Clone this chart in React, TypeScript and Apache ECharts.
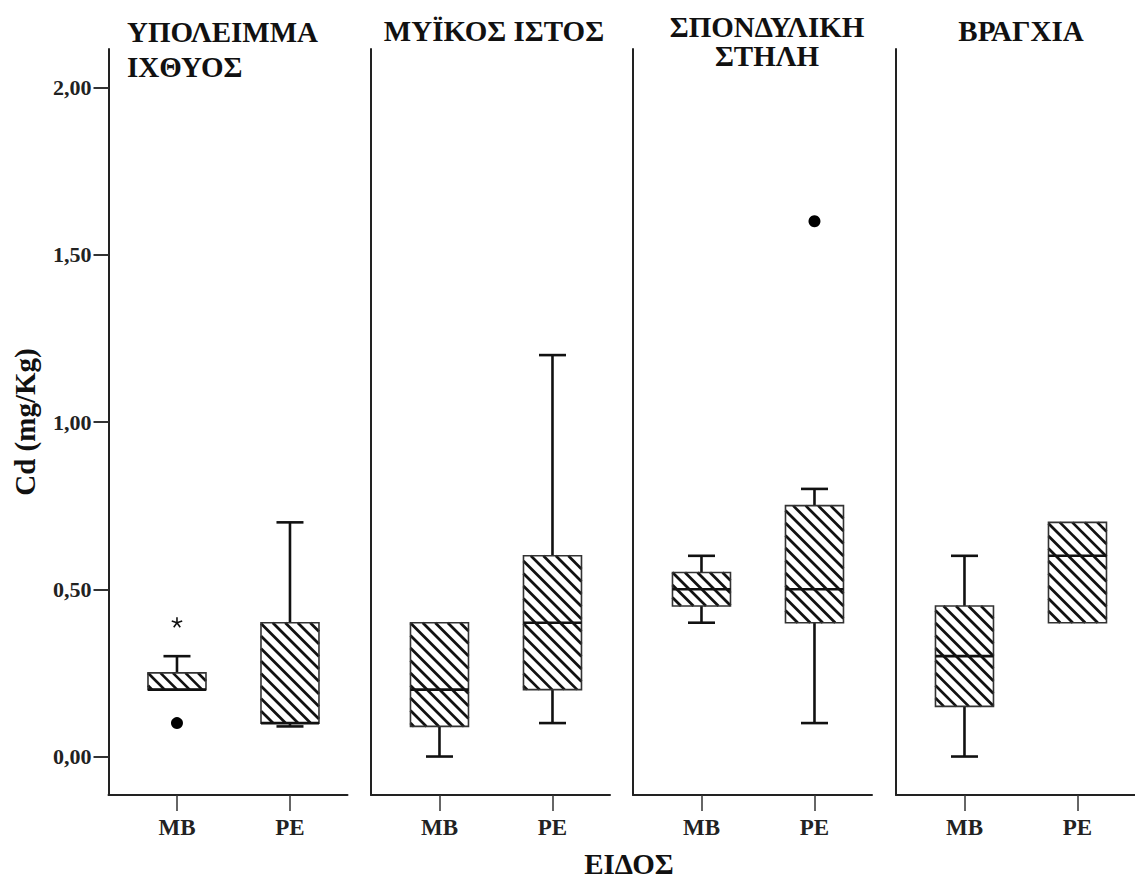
import React, { useEffect, useRef } from 'react';
import * as echarts from 'echarts';

// ---------- data ----------
const panelTitles = ['ΥΠΟΛΕΙΜΜΑ\nΙΧΘΥΟΣ', 'ΜΥΪΚΟΣ ΙΣΤΟΣ', 'ΣΠΟΝΔΥΛΙΚΗ\nΣΤΗΛΗ', 'ΒΡΑΓΧΙΑ'];
const groups = ['MB', 'PE'];
const yTicks = [0, 0.5, 1, 1.5, 2];
// [low whisker, Q1, median, Q3, high whisker] for each panel
const mbStats = [
  [0.2, 0.2, 0.2, 0.25, 0.3],
  [0.0, 0.09, 0.2, 0.4, 0.4],
  [0.4, 0.45, 0.5, 0.55, 0.6],
  [0.0, 0.15, 0.3, 0.45, 0.6],
];
const peStats = [
  [0.09, 0.1, 0.1, 0.4, 0.7],
  [0.1, 0.2, 0.4, 0.6, 1.2],
  [0.1, 0.4, 0.5, 0.75, 0.8],
  [0.4, 0.4, 0.6, 0.7, 0.7],
];
// [panel, group index, value]
const outliers = [
  [0, 0, 0.1],
  [2, 1, 1.6],
];
const extremes = [[0, 0, 0.4]];
const yAxisTitle = 'Cd (mg/Kg)';
const xAxisTitle = 'ΕΙΔΟΣ';

// ---------- layout ----------
const FONT = "'Liberation Serif', 'Times New Roman', serif";
const INK = '#111';
const panelLeft = [108.5, 371, 633, 896];
const PANEL_W = 239;
const GRID_TOP = 49;
const GRID_H = 746;
const X_MIN = -0.606;
const X_MAX = 1.509;
const Y_MIN = -0.115;
const Y_MAX = 2.115;

function fmtY(v: number) {
  return v.toFixed(2).replace('.', ',');
}

function boxRenderer(params: any, api: any) {
  const x = api.value(0);
  const lo = api.value(1);
  const q1 = api.value(2);
  const med = api.value(3);
  const q3 = api.value(4);
  const hi = api.value(5);
  const cx = api.coord([x, med])[0];
  const yLo = api.coord([x, lo])[1];
  const yQ1 = api.coord([x, q1])[1];
  const yMed = api.coord([x, med])[1];
  const yQ3 = api.coord([x, q3])[1];
  const yHi = api.coord([x, hi])[1];
  const hw = 29;
  const cw = 13.5;
  const children: any[] = [];
  const lw = 2.6;
  // whiskers
  if (yHi < yQ3 - 0.5) {
    children.push({ type: 'line', shape: { x1: cx, y1: yQ3, x2: cx, y2: yHi }, style: { stroke: INK, lineWidth: lw } });
    children.push({ type: 'line', shape: { x1: cx - cw, y1: yHi, x2: cx + cw, y2: yHi }, style: { stroke: INK, lineWidth: lw } });
  }
  if (yLo > yQ1 + 0.5) {
    children.push({ type: 'line', shape: { x1: cx, y1: yQ1, x2: cx, y2: yLo }, style: { stroke: INK, lineWidth: lw } });
    children.push({ type: 'line', shape: { x1: cx - cw, y1: yLo, x2: cx + cw, y2: yLo }, style: { stroke: INK, lineWidth: lw } });
  }
  // box background
  const x0 = cx - hw;
  const x1 = cx + hw;
  const yt = yQ3;
  const yb = yQ1;
  children.push({ type: 'rect', shape: { x: x0, y: yt, width: x1 - x0, height: yb - yt }, style: { fill: '#fff', stroke: null } });
  // hatch lines "\" : y = x + c
  const s = 12.5;
  const cStart = Math.ceil((yt - x1) / s) * s;
  for (let c = cStart; c <= yb - x0; c += s) {
    const xa = Math.max(x0, yt - c);
    const xb = Math.min(x1, yb - c);
    if (xb - xa > 0.8) {
      children.push({
        type: 'line',
        shape: { x1: xa, y1: xa + c, x2: xb, y2: xb + c },
        style: { stroke: INK, lineWidth: 2.7 },
      });
    }
  }
  // box outline
  children.push({ type: 'rect', shape: { x: x0, y: yt, width: x1 - x0, height: yb - yt }, style: { fill: null, stroke: '#333', lineWidth: 1.6 } });
  // median
  children.push({ type: 'line', shape: { x1: x0, y1: yMed, x2: x1, y2: yMed }, style: { stroke: INK, lineWidth: 2.6 } });
  return { type: 'group', children };
}

function starRenderer(params: any, api: any) {
  const p = api.coord([api.value(0), api.value(1)]);
  const r = 5.5;
  const children: any[] = [];
  for (let k = 0; k < 5; k++) {
    const a = -Math.PI / 2 + (k * 2 * Math.PI) / 5;
    children.push({
      type: 'line',
      shape: { x1: p[0], y1: p[1], x2: p[0] + r * Math.cos(a), y2: p[1] + r * Math.sin(a) },
      style: { stroke: INK, lineWidth: 1.6 },
    });
  }
  return { type: 'group', children };
}

function buildOption() {
  const grid: any[] = [];
  const xAxis: any[] = [];
  const yAxis: any[] = [];
  const series: any[] = [];
  const axisLineStyle = { color: '#222', width: 2 };
  const labelStyle = { fontFamily: FONT, fontWeight: 'bold', color: '#222' };

  panelTitles.forEach((_, i) => {
    grid.push({
      left: panelLeft[i],
      top: GRID_TOP,
      width: PANEL_W,
      height: GRID_H,
      containLabel: false,
      outerBoundsMode: 'none',
    });
    xAxis.push({
      type: 'value',
      gridIndex: i,
      min: X_MIN,
      max: X_MAX,
      splitLine: { show: false },
      axisLine: { show: true, onZero: false, lineStyle: axisLineStyle },
      axisTick: { show: true, customValues: [0, 1], length: 16, lineStyle: { color: '#333', width: 1.5 } },
      axisLabel: {
        show: true,
        customValues: [0, 1],
        formatter: (v: number) => groups[Math.round(v)],
        margin: 21,
        fontSize: 23,
        ...labelStyle,
      },
    });
    yAxis.push({
      type: 'value',
      gridIndex: i,
      min: Y_MIN,
      max: Y_MAX,
      splitLine: { show: false },
      axisLine: { show: true, onZero: false, lineStyle: axisLineStyle },
      axisTick: i === 0
        ? { show: true, customValues: yTicks, length: 15, lineStyle: { color: '#333', width: 2 } }
        : { show: false },
      axisLabel: i === 0
        ? { show: true, customValues: yTicks, formatter: (v: number) => fmtY(v), margin: 17, fontSize: 22, ...labelStyle }
        : { show: false },
    });
    series.push({
      type: 'custom',
      xAxisIndex: i,
      yAxisIndex: i,
      renderItem: boxRenderer,
      encode: { x: 0, y: [1, 2, 3, 4, 5] },
      data: [
        [0, ...mbStats[i]],
        [1, ...peStats[i]],
      ],
      z: 2,
    });
    const outs = outliers.filter((o) => o[0] === i).map((o) => [o[1], o[2]]);
    if (outs.length) {
      series.push({
        type: 'scatter',
        xAxisIndex: i,
        yAxisIndex: i,
        symbol: 'circle',
        symbolSize: 12,
        itemStyle: { color: '#000', opacity: 1 },
        data: outs,
        z: 3,
      });
    }
    const ext = extremes.filter((o) => o[0] === i).map((o) => [o[1], o[2]]);
    if (ext.length) {
      series.push({
        type: 'custom',
        xAxisIndex: i,
        yAxisIndex: i,
        renderItem: starRenderer,
        encode: { x: 0, y: 1 },
        data: ext,
        z: 3,
      });
    }
  });

  const titleFont = { fontFamily: FONT, fontWeight: 'bold', fontSize: 29, fill: '#111' };
  const graphic: any[] = [
    {
      type: 'text',
      style: { text: panelTitles[0], x: 127, y: 14, textAlign: 'left', textVerticalAlign: 'top', lineHeight: 35, ...titleFont },
    },
    {
      type: 'text',
      style: { text: panelTitles[1], x: 494, y: 31, textAlign: 'center', textVerticalAlign: 'middle', ...titleFont },
    },
    {
      type: 'text',
      style: { text: panelTitles[2], x: 767, y: 12, textAlign: 'center', textVerticalAlign: 'top', lineHeight: 29, ...titleFont },
    },
    {
      type: 'text',
      style: { text: panelTitles[3], x: 1021, y: 31, textAlign: 'center', textVerticalAlign: 'middle', ...titleFont },
    },
    {
      type: 'text',
      style: { text: xAxisTitle, x: 629, y: 864, textAlign: 'center', textVerticalAlign: 'middle', fontFamily: FONT, fontWeight: 'bold', fontSize: 29, fill: '#111' },
    },
    {
      type: 'text',
      x: 25,
      y: 422,
      rotation: Math.PI / 2,
      style: { text: yAxisTitle, x: 0, y: 0, textAlign: 'center', textVerticalAlign: 'middle', fontFamily: FONT, fontWeight: 'bold', fontSize: 29, fill: '#111' },
    },
  ];

  return {
    animation: false,
    backgroundColor: '#fff',
    grid,
    xAxis,
    yAxis,
    series,
    graphic,
  };
}

export default function App() {
  const ref = useRef<HTMLDivElement>(null);
  useEffect(() => {
    if (!ref.current) return;
    const chart = echarts.init(ref.current, undefined, { renderer: 'svg' });
    chart.setOption(buildOption() as any);
    return () => chart.dispose();
  }, []);
  return (
    <div
      ref={ref}
      style={{ position: 'absolute', left: 0, top: 0, width: 1135, height: 881, background: '#fff' }}
    />
  );
}
